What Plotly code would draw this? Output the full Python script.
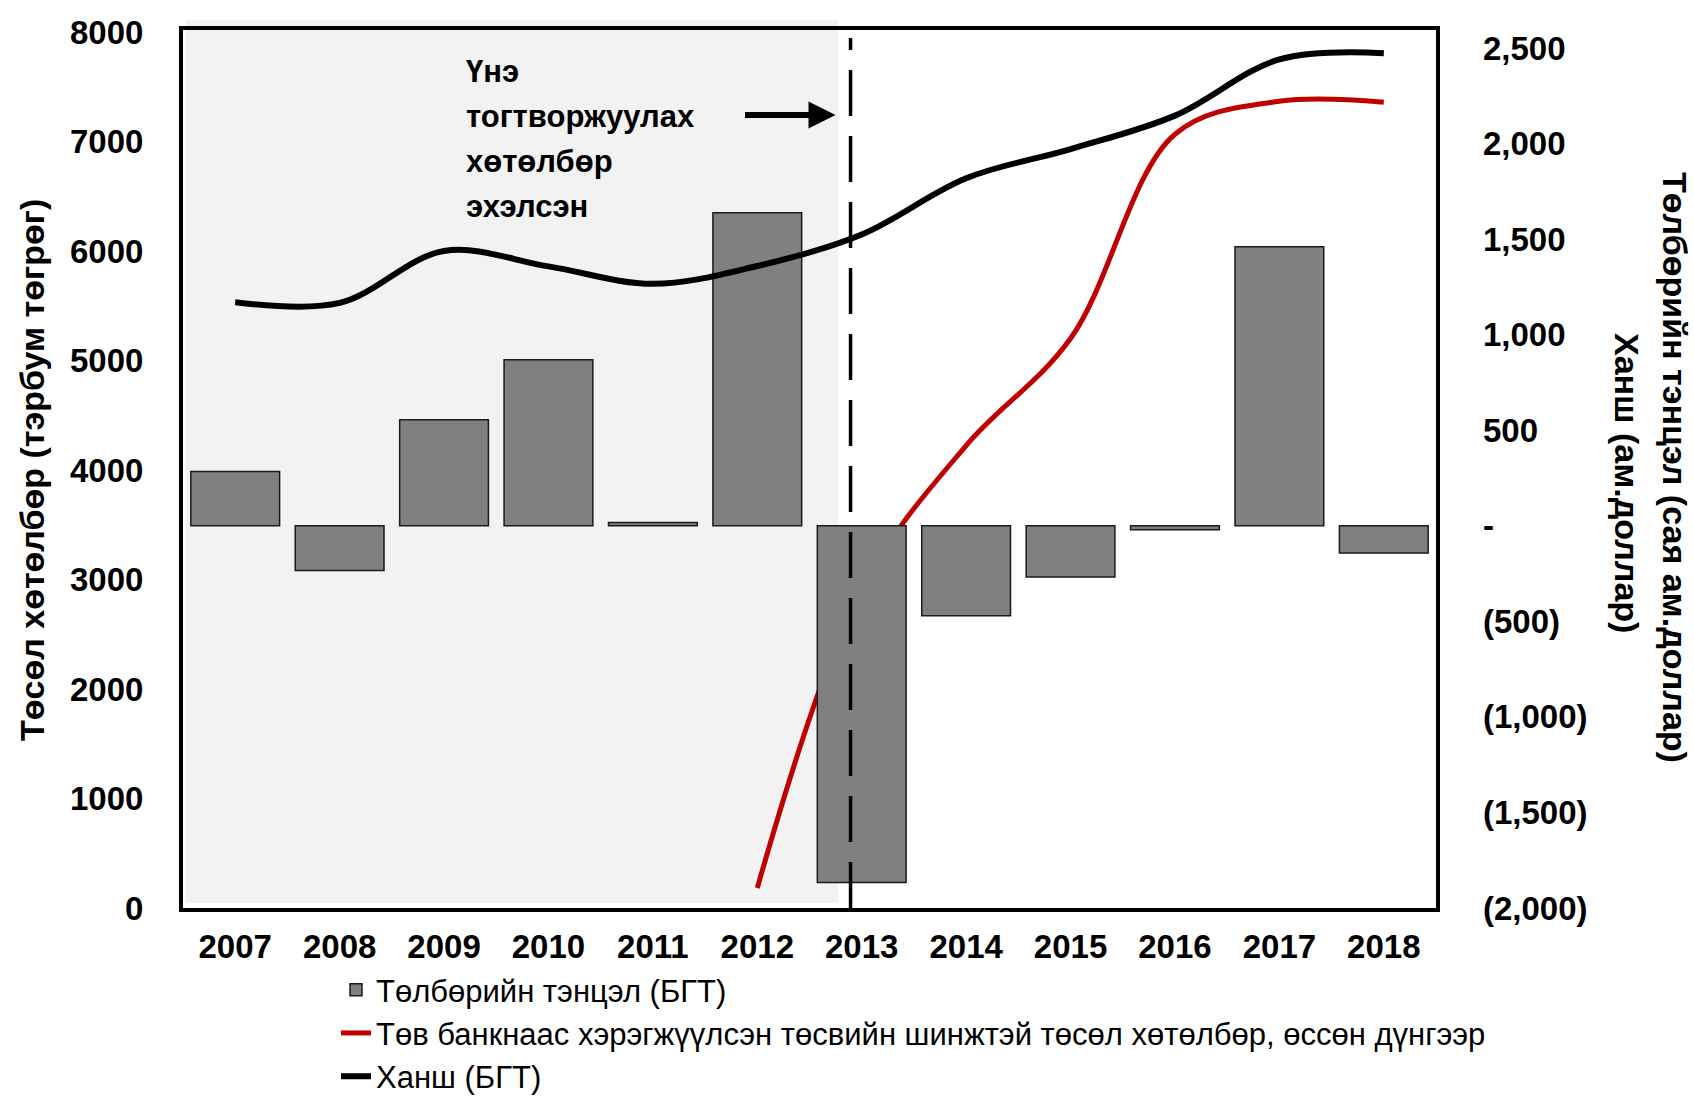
import plotly.graph_objects as go

# ---------------- data ----------------
years = ["2007", "2008", "2009", "2010", "2011", "2012",
         "2013", "2014", "2015", "2016", "2017", "2018"]
# Төлбөрийн тэнцэл (сая ам.доллар), right axis
bop = [284, -234, 555, 869, 17, 1638, -1867, -471, -268, -21, 1460, -143]
# Ханш (ам.доллар), right axis
rate = [1170, 1166, 1438, 1357, 1266, 1359, 1524, 1818, 1971, 2146, 2440, 2473]
# Төв банкнаас хэрэгжүүлсэн төсөл хөтөлбөр, өссөн дүнгээр (тэрбум төгрөг), left axis
prog_years = ["2012", "2013", "2014", "2015", "2016", "2017", "2018"]
prog = [183, 2916, 4223, 5200, 7066, 7367, 7358]

left_ticks = [0, 1000, 2000, 3000, 4000, 5000, 6000, 7000, 8000]
right_ticks = [2500, 2000, 1500, 1000, 500, 0, -500, -1000, -1500, -2000]
right_ticktext = ["2,500", "2,000", "1,500", "1,000", "500", "-",
                  "(500)", "(1,000)", "(1,500)", "(2,000)"]

names = ["Төлбөрийн тэнцэл (БГТ)",
         "Төв банкнаас хэрэгжүүлсэн төсвийн шинжтэй төсөл хөтөлбөр, өссөн дүнгээр",
         "Ханш (БГТ)"]
left_title = "Төсөл хөтөлбөр (тэрбум төгрөг)"
right_title_1 = "Төлбөрийн тэнцэл (сая ам.доллар)"
right_title_2 = "Ханш (ам.доллар)"
note_lines = ["Үнэ", "тогтворжуулах", "хөтөлбөр", "эхэлсэн"]

# ---------------- layout geometry ----------------
W, H = 1694, 1100
L, R, T, B = 183, 258, 30, 192
PW, PH = W - L - R, H - T - B

def px_x(px):
    return (px - L) / PW

def px_y(py):
    return (H - B - py) / PH

xidx = list(range(len(years)))
pidx = [years.index(y) for y in prog_years]

SANS = "Liberation Sans, Arial, sans-serif"

fig = go.Figure()
fig.add_trace(go.Bar(
    x=xidx, y=bop, name=names[0], yaxis="y2", width=0.85,
    marker=dict(color="#808080", line=dict(color="#1a1a1a", width=1.5)),
    legendgroup="a"))
fig.add_trace(go.Scatter(
    x=pidx, y=prog, name=names[1], yaxis="y", mode="lines",
    line=dict(color="#c00000", width=5, shape="spline", smoothing=1.0),
    legendgroup="b"))
fig.add_trace(go.Scatter(
    x=xidx, y=rate, name=names[2], yaxis="y2", mode="lines",
    line=dict(color="#000000", width=6, shape="spline", smoothing=1.0),
    legendgroup="c"))

# shaded period before the programme
fig.add_shape(type="rect", xref="x", yref="paper",
              x0=-0.476, x1=5.778, y0=px_y(903), y1=px_y(20),
              fillcolor="#f2f2f2", line=dict(width=0), layer="below")
# dashed start line
fig.add_shape(type="line", xref="x", yref="paper",
              x0=5.893, x1=5.893, y0=0, y1=px_y(38),
              line=dict(color="black", width=3.5, dash="46px,20px"), layer="above")

annotations = []
for txt, cy in zip(note_lines, [72, 117, 162, 207]):
    annotations.append(dict(
        text=txt, xref="paper", yref="paper", x=px_x(464), y=px_y(cy),
        xanchor="left", yanchor="middle", showarrow=False,
        font=dict(family=SANS, size=31, color="black", weight="bold")))
# arrow
annotations.append(dict(
    text="", xref="x", yref="paper", x=5.749, y=px_y(115),
    ax=-92, ay=0, showarrow=True, arrowhead=2, arrowsize=0.9,
    arrowwidth=6, arrowcolor="black"))
# axis titles
annotations.append(dict(
    text=left_title, xref="paper", yref="paper", x=px_x(32), y=px_y(470),
    xanchor="center", yanchor="middle", textangle=-90, showarrow=False,
    font=dict(family=SANS, size=34, color="black", weight="bold")))
annotations.append(dict(
    text=right_title_1, xref="paper", yref="paper", x=px_x(1675), y=px_y(467),
    xanchor="center", yanchor="middle", textangle=90, showarrow=False,
    font=dict(family=SANS, size=34, color="black", weight="bold")))
annotations.append(dict(
    text=right_title_2, xref="paper", yref="paper", x=px_x(1627), y=px_y(483),
    xanchor="center", yanchor="middle", textangle=90, showarrow=False,
    font=dict(family=SANS, size=34, color="black", weight="bold")))

tickfont = dict(family=SANS, size=33, color="black", weight="bold")

fig.update_layout(
    width=W, height=H,
    margin=dict(l=L, r=R, t=T, b=B, autoexpand=False),
    paper_bgcolor="white", plot_bgcolor="white",
    showlegend=True,
    legend=dict(x=px_x(336), y=px_y(963), xanchor="left", yanchor="top",
                orientation="v", font=dict(family=SANS, size=31, color="black"),
                bgcolor="rgba(0,0,0,0)", tracegroupgap=0, traceorder="normal"),
    xaxis=dict(range=[-0.5, 11.5], tickmode="array", tickvals=xidx, ticktext=years,
               showgrid=False, zeroline=False, showline=True, mirror=True,
               linecolor="black", linewidth=4, ticks="", tickfont=tickfont,
               ticklabelstandoff=6),
    yaxis=dict(range=[0, 8018], tickmode="array", tickvals=left_ticks,
               showgrid=False, zeroline=False, showline=True, mirror=True,
               linecolor="black", linewidth=4, ticks="", tickfont=tickfont,
               ticklabelstandoff=29),
    yaxis2=dict(range=[-2000, 2594], overlaying="y", side="right",
                tickmode="array", tickvals=right_ticks, ticktext=right_ticktext,
                showgrid=False, zeroline=False, showline=False, ticks="",
                tickfont=tickfont, ticklabelstandoff=46),
    annotations=annotations,
    bargap=0.15,
)

fig.write_html("out.html", config={"displayModeBar": False},
               post_script="document.body.style.margin='0px';document.body.style.overflow='hidden';")
